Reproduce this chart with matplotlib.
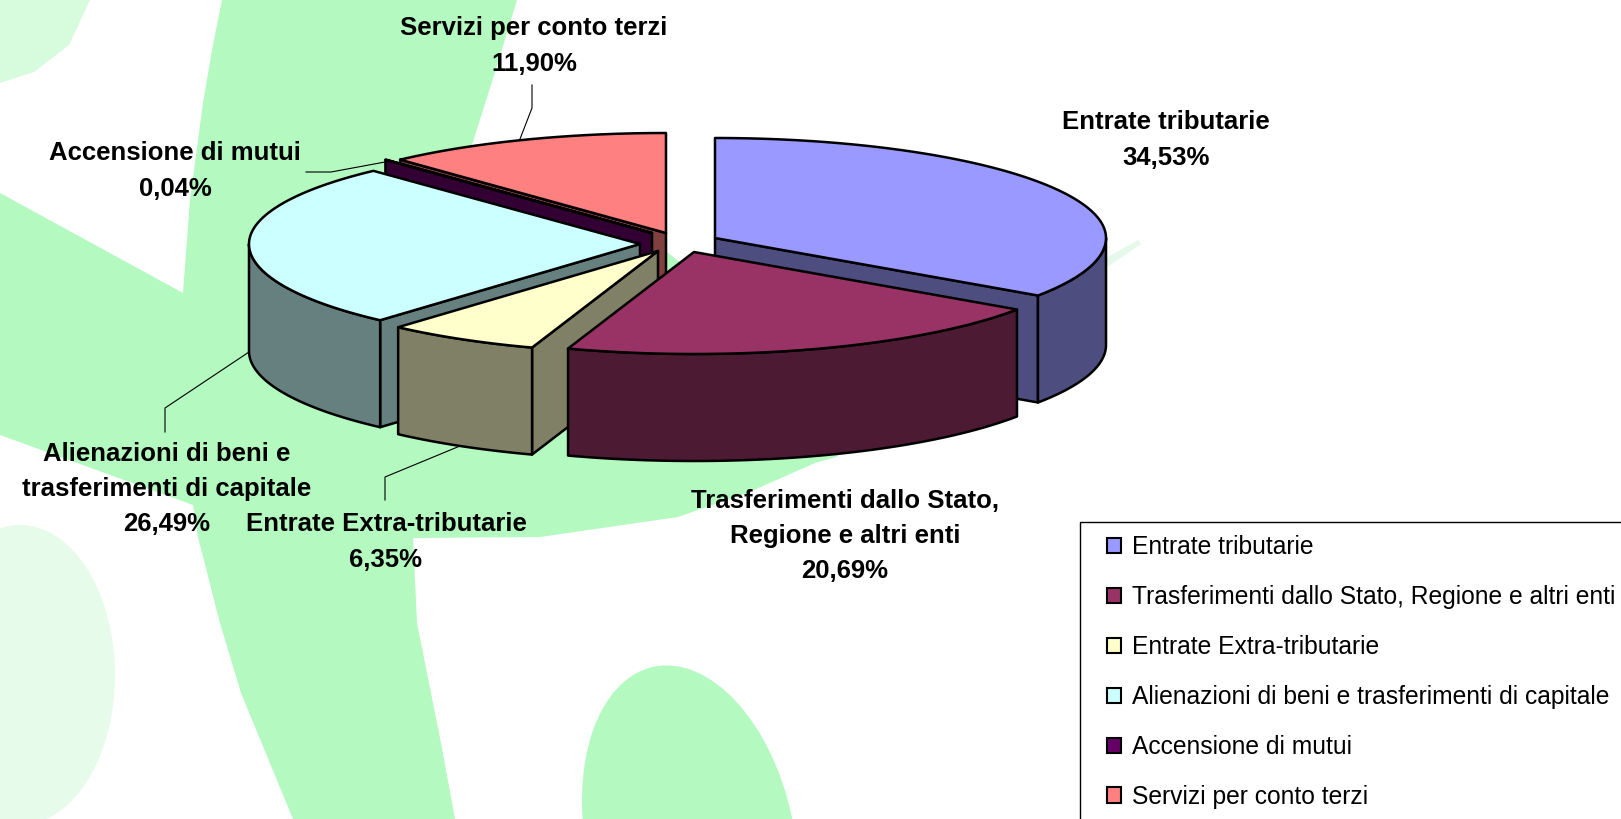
import numpy as np
import matplotlib
matplotlib.use("Agg")
import matplotlib.pyplot as plt
from matplotlib.patches import Polygon, Ellipse, Rectangle, Patch

plt.rcParams['font.family'] = ['Liberation Sans', 'DejaVu Sans']

# ---- data ----
categories = ["Entrate tributarie", "Trasferimenti dallo Stato, Regione e altri enti",
              "Entrate Extra-tributarie", "Alienazioni di beni e trasferimenti di capitale",
              "Accensione di mutui", "Servizi per conto terzi"]
label_texts = ["Entrate tributarie", "Trasferimenti dallo Stato,\nRegione e altri enti",
               "Entrate Extra-tributarie", "Alienazioni di beni e\ntrasferimenti di capitale",
               "Accensione di mutui", "Servizi per conto terzi"]
values = [34.53, 20.69, 6.35, 26.49, 0.04, 11.90]

# ---- style / geometry ----
top_colors = ["#9999FF", "#993366", "#FFFFCC", "#CCFFFF", "#660066", "#FF8080"]
side_colors = ["#4D4D80", "#4D1A33", "#808066", "#668080", "#330033", "#804040"]
apex = [(715, 238), (694, 252), (658, 251), (640, 244), (652, 233), (666, 233)]
RX, RY_BACK, RY_FRONT, DEPTH = 391, 100, 102, 107
draw_order = [5, 4, 3, 2, 0, 1]
label_pos = [(1166, 140), (845, 536), (386, 542), (167, 489), (175, 171), (534, 46)]
leaders = [None, None,
           [(385, 500), (385, 477), (460, 446)],
           [(165, 432), (165, 408), (249, 352)],
           [(306, 172), (331, 172), (385, 162)],
           [(532, 85), (532, 108), (520, 139)]]
GREEN = "#B3F9C0"
LW = 1.8

fig = plt.figure(figsize=(16.21, 8.19), dpi=100, facecolor="white")
ax = fig.add_axes([0, 0, 1, 1])
ax.set_xlim(0, 1621)
ax.set_ylim(819, 0)
ax.axis("off")

# ---- background artwork ----
main_shape = [(222, 0), (212, 50), (203, 103), (190, 200), (183, 293), (0, 193), (0, 435),
              (193, 505), (198, 537), (220, 623), (241, 693), (293, 819), (455, 819), (441, 743),
              (417, 623), (413, 538), (540, 537), (609, 527), (678, 517), (747, 493), (815, 463),
              (836, 457), (1000, 340), (1050, 290), (900, 300), (690, 270), (600, 200),
              (472, 145), (496, 69), (517, 0)]
ax.add_patch(Polygon(main_shape, closed=True, fc=GREEN, ec="none", zorder=1))
ax.add_patch(Polygon([(0, 0), (90, 0), (69, 45), (34, 72), (0, 83)], closed=True,
                     fc="#D6FBDD", ec="none", zorder=1))
ax.add_patch(Ellipse((20, 675), 190, 300, fc="#E6FBEA", ec="none", zorder=1))
ax.add_patch(Ellipse((690, 838), 208, 350, angle=-12, fc=GREEN, ec="none", zorder=1))
ax.add_patch(Polygon([(1106, 258), (1138, 240), (1141, 244), (1106, 268)], closed=True,
                     fc="#E6F8E9", ec="none", zorder=1))


def rim(c, deg):
    t = np.radians(deg)
    cs = np.cos(t)
    ry = np.where(cs > 0, RY_BACK, RY_FRONT)
    return np.column_stack([c[0] + RX * np.sin(t), c[1] - ry * cs])


edges = np.concatenate([[0], np.cumsum(values)]) / sum(values) * 360
z = 3
for i in draw_order:
    a0, a1 = edges[i], edges[i + 1]
    c = apex[i]
    # radial faces which turn towards the viewer
    for th, normal in ((a0, a0 - 90), (a1, a1 + 90)):
        if np.cos(np.radians(normal)) < -1e-6:
            p = rim(c, np.array([th]))[0]
            ax.add_patch(Polygon([c, p, (p[0], p[1] + DEPTH), (c[0], c[1] + DEPTH)], closed=True,
                                 fc=side_colors[i], ec="black", lw=LW, joinstyle="round", zorder=z))
            z += 1
    # outer wall
    w0, w1 = max(a0, 90), min(a1, 270)
    if w1 > w0:
        r = rim(c, np.linspace(w0, w1, 160))
        b = r[::-1] + [0, DEPTH]
        ax.add_patch(Polygon(np.vstack([r, b]), closed=True, fc=side_colors[i], ec="black",
                             lw=LW, joinstyle="round", zorder=z))
        z += 1
    # top surface
    r = rim(c, np.linspace(a0, a1, 200))
    ax.add_patch(Polygon(np.vstack([[c], r]), closed=True, fc=top_colors[i], ec="black",
                         lw=LW, joinstyle="round", zorder=z))
    z += 1

# ---- leader lines and labels ----
for i, lead in enumerate(leaders):
    if lead:
        xs, ys = zip(*lead)
        ax.plot(xs, ys, color="black", lw=0.8, zorder=2)
    txt = label_texts[i] + "\n" + f"{values[i]:.2f}".replace(".", ",") + "%"
    ax.text(label_pos[i][0], label_pos[i][1], txt, ha="center", va="center", fontsize=18.5,
            fontweight="bold", color="black", linespacing=1.58, zorder=50)

# ---- legend ----
ax.add_patch(Rectangle((1080, 522), 600, 400, fc="white", ec="black", lw=1.0, zorder=40))
handles = [Patch(fc=c, ec="black", lw=1.5) for c in top_colors]
leg = ax.legend(handles, categories, loc="upper left", bbox_to_anchor=(1107 / 1621, 1 - 535 / 819),
                frameon=False, fontsize=17.7, borderpad=0, borderaxespad=0,
                handlelength=0.58, handleheight=0.58, handletextpad=0.45, labelspacing=1.056)
leg.set_zorder(60)

fig.savefig("out.png", dpi=100)
